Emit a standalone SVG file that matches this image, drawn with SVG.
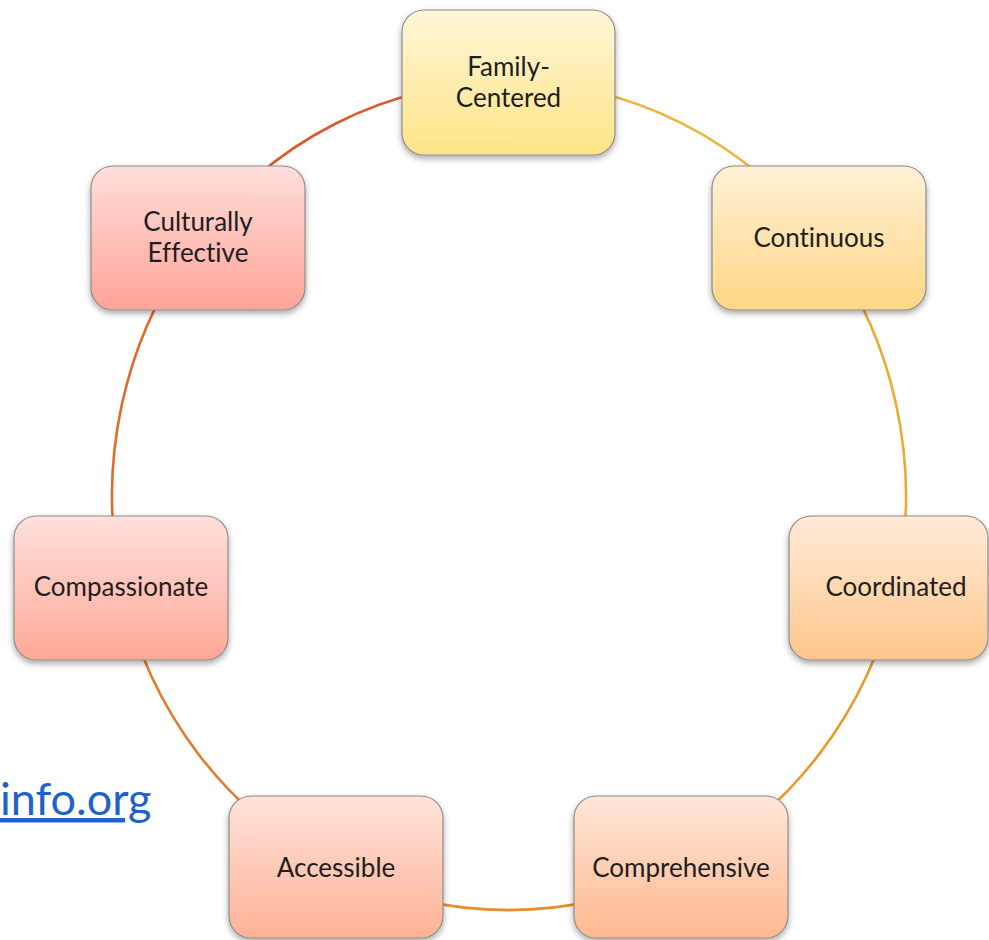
<svg xmlns="http://www.w3.org/2000/svg" width="989" height="940" viewBox="0 0 989 940">
<defs>
<filter id="sh" x="-10%" y="-10%" width="120%" height="130%">
<feDropShadow dx="0" dy="3" stdDeviation="3" flood-color="#000" flood-opacity="0.35"/>
</filter>
<linearGradient id="g1" x1="0" y1="0" x2="0" y2="1"><stop offset="0" stop-color="#FFF6D8"/><stop offset="1" stop-color="#FFE487"/></linearGradient>
<linearGradient id="g2" x1="0" y1="0" x2="0" y2="1"><stop offset="0" stop-color="#FFF0D6"/><stop offset="1" stop-color="#FFD685"/></linearGradient>
<linearGradient id="g3" x1="0" y1="0" x2="0" y2="1"><stop offset="0" stop-color="#FFEBD8"/><stop offset="1" stop-color="#FFC68C"/></linearGradient>
<linearGradient id="g4" x1="0" y1="0" x2="0" y2="1"><stop offset="0" stop-color="#FFE6DA"/><stop offset="1" stop-color="#FFB88E"/></linearGradient>
<linearGradient id="g5" x1="0" y1="0" x2="0" y2="1"><stop offset="0" stop-color="#FFE2DA"/><stop offset="1" stop-color="#FFB295"/></linearGradient>
<linearGradient id="g6" x1="0" y1="0" x2="0" y2="1"><stop offset="0" stop-color="#FFE0DC"/><stop offset="1" stop-color="#FFA896"/></linearGradient>
<linearGradient id="g7" x1="0" y1="0" x2="0" y2="1"><stop offset="0" stop-color="#FFDEDB"/><stop offset="1" stop-color="#FFA397"/></linearGradient>
</defs>
<style>
.box{stroke:#8C8C8C;stroke-width:1.2;filter:url(#sh)}
.lbl{font-family:Lato,"Open Sans","Liberation Sans",sans-serif;font-size:26px;fill:#1E1E1E;text-anchor:middle;font-variant-ligatures:none}
.arc{fill:none;stroke-width:2.6}
.link{font-family:Lato,"Open Sans","Liberation Sans",sans-serif;font-size:45px;fill:#2062CC;text-decoration:underline;font-variant-ligatures:none}
</style>
<rect width="989" height="940" fill="#FFFFFF"/>
<g id="connectors">
<path class="arc" stroke="#EAB640" d="M509,82 A397,414 0 0 1 819,237.4"/>
<path class="arc" stroke="#ECAA2E" d="M819,237.4 A397,414 0 0 1 896,588"/>
<path class="arc" stroke="#EA9A2C" d="M896,588 A397,414 0 0 1 681,869"/>
<path class="arc" stroke="#E98C2A" d="M681,869 A397,414 0 0 1 336,869"/>
<path class="arc" stroke="#E27C2C" d="M336,869 A397,414 0 0 1 122,588"/>
<path class="arc" stroke="#DF6A2C" d="M122,588 A397,414 0 0 1 198,238.7"/>
<path class="arc" stroke="#D9582C" d="M198,238.7 A397,414 0 0 1 509,82"/>
</g>
<g id="family-centered">
<rect class="box" x="402" y="10" width="213" height="145" rx="22" fill="url(#g1)"/>
<text class="lbl" x="508.5" y="76">Family-</text>
<text class="lbl" x="508.5" y="107">Centered</text>
</g>
<g id="continuous">
<rect class="box" x="712" y="166" width="214" height="144" rx="22" fill="url(#g2)"/>
<text class="lbl" x="819" y="247">Continuous</text>
</g>
<g id="coordinated">
<rect class="box" x="789" y="516" width="199" height="144" rx="22" fill="url(#g3)"/>
<text class="lbl" x="896" y="596">Coordinated</text>
</g>
<g id="comprehensive">
<rect class="box" x="574" y="796" width="214" height="142" rx="22" fill="url(#g4)"/>
<text class="lbl" x="681" y="877">Comprehensive</text>
</g>
<g id="accessible">
<rect class="box" x="229" y="796" width="214" height="142" rx="22" fill="url(#g5)"/>
<text class="lbl" x="336" y="877">Accessible</text>
</g>
<g id="compassionate">
<rect class="box" x="14" y="516" width="214" height="144" rx="22" fill="url(#g6)"/>
<text class="lbl" x="121" y="596">Compassionate</text>
</g>
<g id="culturally-effective">
<rect class="box" x="91" y="166" width="214" height="144" rx="22" fill="url(#g7)"/>
<text class="lbl" x="198" y="231">Culturally</text>
<text class="lbl" x="198" y="262">Effective</text>
</g>
<text class="link" x="0" y="815">info.org</text>
</svg>
